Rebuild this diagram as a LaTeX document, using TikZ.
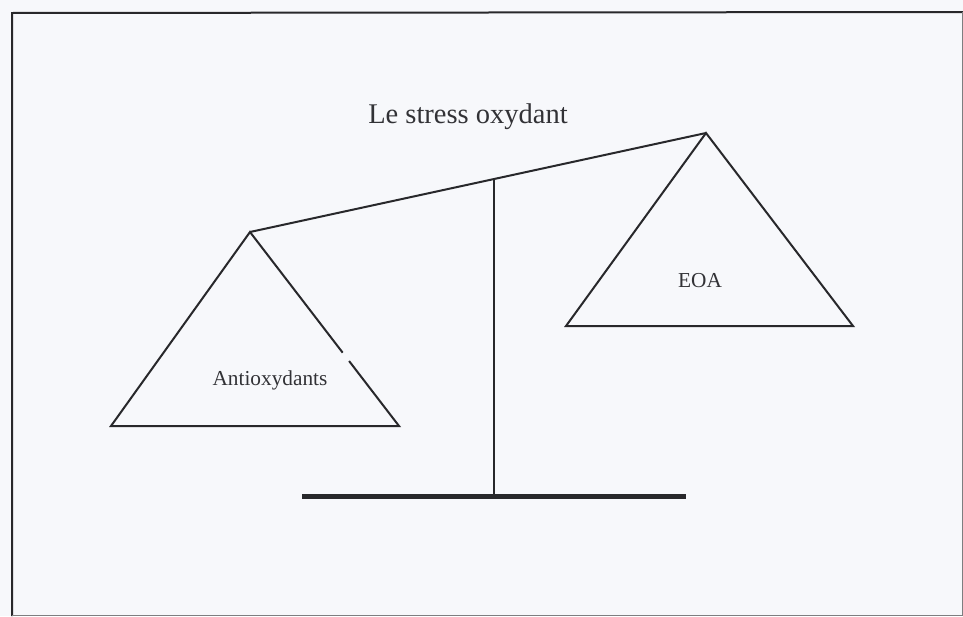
\documentclass[tikz,border=0pt]{standalone}
\usepackage{fontspec}
\setmainfont{Liberation Serif}
\usetikzlibrary{calc}
\definecolor{paper}{RGB}{247,248,251}
\definecolor{ink}{RGB}{40,40,43}
\definecolor{txt}{RGB}{50,50,54}
\tikzset{
  frameline/.style={draw=ink, line width=2pt},
  edgeline/.style={draw=ink!60, line width=1pt},
  scaleline/.style={draw=ink, line width=2pt, line join=miter},
  baseline bar/.style={draw=ink, line width=5pt},
  label text/.style={text=txt, font=\fontsize{21.3}{24}\selectfont, inner sep=0pt},
  title text/.style={text=txt, font=\fontsize{28.5}{32}\selectfont, inner sep=0pt}
}
\begin{document}
\begin{tikzpicture}[x=1pt,y=-1pt]
\useasboundingbox (0,0) rectangle (963,616);
\fill[paper] (0,0) rectangle (963,616);
\draw[frameline] (12,616) -- (12,13) -- (963,12);
\draw[edgeline] (962,12) -- (962,615) -- (12,615);
% title
\node[title text] (title) at (468,117) {Le stress oxydant};
% beam ends
\coordinate (la) at (250,232);
\coordinate (ra) at (706,133);
% left pan
\coordinate (lbl) at (111,426);
\coordinate (lbr) at (399,426);
% right pan
\coordinate (rbl) at (566,326);
\coordinate (rbr) at (853,326);
% post
\coordinate (ptop) at (494,180);
\coordinate (pbot) at (494,494);
\coordinate (bl) at (302,496);
\coordinate (br) at (686,496);
% beam
\draw[scaleline] (la) -- (ra);
% post
\draw[scaleline] (ptop) -- (pbot);
% base
\draw[baseline bar] (bl) -- (br);
% left triangle with small gap on right side
\draw[scaleline] ($(la)!0.665!(lbr)$) -- (lbr) -- (lbl) -- (la) -- ($(la)!0.622!(lbr)$);
% right triangle
\draw[scaleline] (ra) -- (rbr) -- (rbl) -- cycle;
% labels
\node[label text] (anti) at (270,380) {Antioxydants};
\node[label text] (eoa) at (700,281) {EOA};
\end{tikzpicture}
\end{document}
